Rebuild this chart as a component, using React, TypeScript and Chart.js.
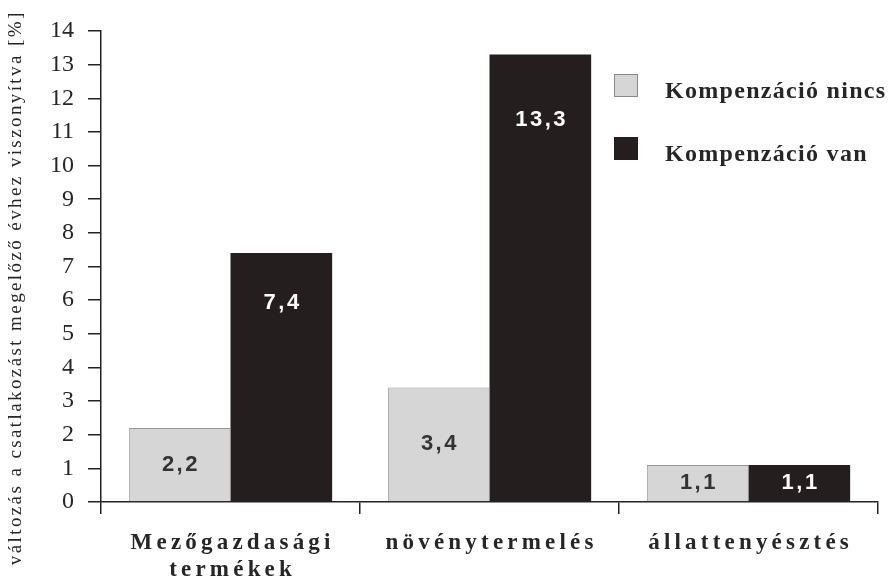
import React, { useEffect, useRef } from "react";
import { Chart, registerables } from "chart.js";

Chart.register(...registerables);

const categories: string[][] = [["Mezőgazdasági", "termékek"], ["növénytermelés"], ["állattenyésztés"]];
const seriesNames = ["Kompenzáció nincs", "Kompenzáció van"];
const noCompensation = [2.2, 3.4, 1.1];
const withCompensation = [7.4, 13.3, 1.1];
const yTitle = "változás a csatlakozást megelőző évhez viszonyítva [%]";
const yMin = 0;
const yMax = 14;

const LIGHT = "#d6d6d6";
const DARK = "#241e1f";
const INK = "#262626";
const SERIF = "'Liberation Serif', 'Times New Roman', serif";
const SANS = "'Liberation Sans', Arial, sans-serif";

const fmt = (v: number) => v.toFixed(1).replace(".", ",");

const overlayPlugin = {
  id: "overlay",
  afterDatasetsDraw(chart: any) {
    const ctx = chart.ctx as CanvasRenderingContext2D;
    ctx.save();
    ctx.font = `bold 22px ${SANS}`;
    ctx.textAlign = "center";
    ctx.textBaseline = "middle";
    (ctx as any).letterSpacing = "2.5px";
    chart.data.datasets.forEach((ds: any, di: number) => {
      const meta = chart.getDatasetMeta(di);
      meta.data.forEach((bar: any, i: number) => {
        const top = bar.y;
        const h = bar.base - bar.y;
        const off = h < 150 ? h / 2 : 30 + 0.08 * h;
        ctx.fillStyle = di === 0 ? "#333" : "#fff";
        ctx.fillText(fmt(ds.data[i]), bar.x + 1.25, top + off);
      });
    });
    ctx.restore();
  },
  afterDraw(chart: any) {
    const ctx = chart.ctx as CanvasRenderingContext2D;
    const xs = chart.scales.x;
    ctx.save();
    // x category labels
    ctx.fillStyle = INK;
    ctx.font = `bold 23px ${SERIF}`;
    (ctx as any).letterSpacing = "4.2px";
    ctx.textAlign = "center";
    ctx.textBaseline = "alphabetic";
    categories.forEach((lines, i) => {
      const x = xs.getPixelForValue(i);
      lines.forEach((ln, li) => {
        ctx.fillText(ln, x + 2.1, 549 + li * 27);
      });
    });
    // y title
    ctx.save();
    ctx.translate(16, 289);
    ctx.rotate(-Math.PI / 2);
    ctx.textBaseline = "middle";
    ctx.font = `19px ${SERIF}`;
    (ctx as any).letterSpacing = "2.4px";
    ctx.fillText(yTitle, 1.2, 0);
    ctx.restore();
    // legend
    (ctx as any).letterSpacing = "1.3px";
    ctx.font = `bold 24px ${SERIF}`;
    ctx.textAlign = "left";
    ctx.textBaseline = "alphabetic";
    const colors = [LIGHT, DARK];
    seriesNames.forEach((name, i) => {
      const sy = 74 + i * 63;
      ctx.fillStyle = colors[i];
      ctx.fillRect(614, sy, 24, 23);
      if (i === 0) {
        ctx.strokeStyle = "#888";
        ctx.lineWidth = 1;
        ctx.strokeRect(614.5, sy + 0.5, 23, 22);
      }
      ctx.fillStyle = INK;
      ctx.fillText(name, 665, sy + 24);
    });
    ctx.restore();
  },
};

export default function App() {
  const ref = useRef<HTMLCanvasElement | null>(null);
  useEffect(() => {
    if (!ref.current) return;
    const chart = new Chart(ref.current, {
      type: "bar",
      data: {
        labels: categories.map((c) => c.join(" ")),
        datasets: [
          {
            label: seriesNames[0],
            data: noCompensation,
            backgroundColor: LIGHT,
            borderColor: "#999",
            borderWidth: 1,
          },
          {
            label: seriesNames[1],
            data: withCompensation,
            backgroundColor: DARK,
            borderColor: DARK,
            borderWidth: 0,
          },
        ],
      },
      options: {
        animation: false,
        responsive: true,
        maintainAspectRatio: false,
        layout: { padding: { top: 31, right: 13, left: 0, bottom: 0 } },
        datasets: { bar: { categoryPercentage: 0.785, barPercentage: 1.0 } },
        plugins: { legend: { display: false }, tooltip: { enabled: false } },
        scales: {
          x: {
            offset: true,
            grid: {
              offset: true,
              drawOnChartArea: false,
              drawTicks: true,
              tickLength: 12,
              color: "#222",
              lineWidth: 1.5,
            },
            border: { color: "#222", width: 1.5 },
            ticks: { display: false },
            afterFit: (s: any) => {
              s.height = 82;
            },
          },
          y: {
            min: yMin,
            max: yMax,
            grid: {
              drawOnChartArea: false,
              drawTicks: true,
              tickLength: 13,
              color: "#222",
              lineWidth: 1.5,
            },
            border: { color: "#222", width: 1.5 },
            ticks: {
              stepSize: 1,
              padding: 14,
              color: INK,
              font: { family: SERIF, size: 24 },
            },
            afterFit: (s: any) => {
              s.width = 101;
            },
          },
        },
      },
      plugins: [overlayPlugin],
    });
    return () => chart.destroy();
  }, []);
  return (
    <div style={{ position: "fixed", left: 0, top: 0, width: 891, height: 584, background: "#fff" }}>
      <canvas ref={ref} />
    </div>
  );
}
